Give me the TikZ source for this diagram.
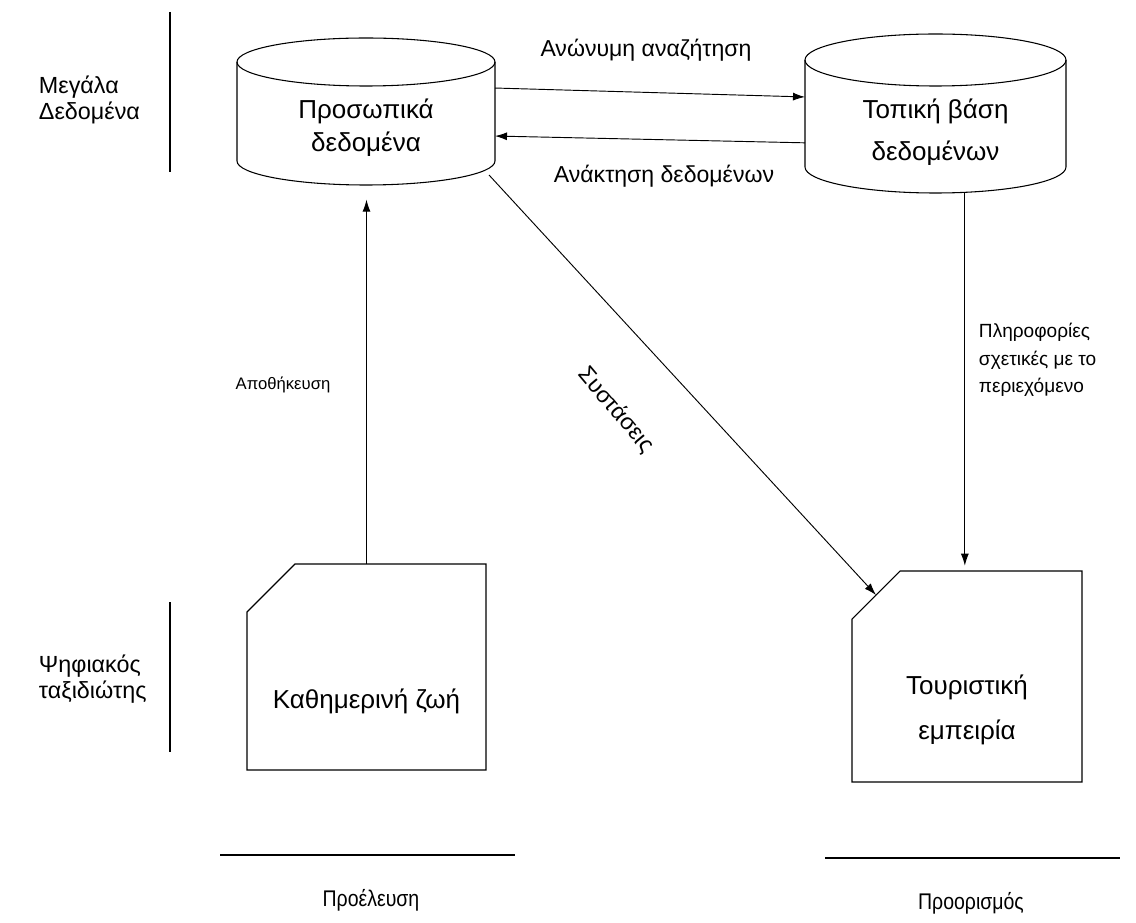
\documentclass[tikz,border=0pt]{standalone}
\usepackage{fontspec}
\setmainfont{Liberation Sans}
\newfontfamily\narrowfont[FakeStretch=0.86]{Liberation Sans}
\usetikzlibrary{arrows.meta}
\tikzset{
  arw/.style={-{Latex[length=9pt,width=6pt]}, line width=0.7pt},
  shapebox/.style={draw=none, inner sep=0pt, outer sep=0pt},
  shapetxt/.style={font=\fontsize{19.5}{25}\selectfont, align=center},
  lbl/.style={font=\fontsize{17.3}{21}\selectfont, align=center},
  smalllbl/.style={font=\fontsize{12.5}{15}\selectfont},
  sidelbl/.style={font=\fontsize{17.5}{19}\selectfont, align=left, anchor=west},
  infolbl/.style={font=\fontsize{14.3}{20.5}\selectfont, align=left, anchor=west},
  footlbl/.style={font=\narrowfont\fontsize{17}{20}\selectfont},
  rule/.style={line width=1.1pt}
}
\begin{document}
\begin{tikzpicture}[x=0.75pt,y=0.75pt,line width=0.8pt]
  \useasboundingbox (0,0) rectangle (1136,-923);

  % side labels
  \node[sidelbl] (bigdata) at (34,-100) {Μεγάλα\\Δεδομένα};
  \node[sidelbl] (traveller) at (34,-679) {Ψηφιακός\\ταξιδιώτης};
  \draw[rule] (170,-12) -- (170,-172);
  \draw[rule] (170,-602) -- (170,-752);

  % databases
  \node[shapebox, minimum width=193.5pt, minimum height=110.25pt] (pers) at (366,-111.5) {};
  \draw ([yshift=-18pt]pers.north west) -- ([yshift=18pt]pers.south west)
    arc (180:360:96.75pt and 18pt) -- ([yshift=-18pt]pers.north east);
  \draw ([yshift=-18pt]pers.north) ellipse (96.75pt and 18pt);
  \node[shapetxt] (persText) at ([yshift=-12pt]pers.center) {Προσωπικά\\δεδομένα};

  \node[shapebox, minimum width=195.75pt, minimum height=119.25pt] (loc) at (935.5,-113.5) {};
  \draw ([yshift=-19.5pt]loc.north west) -- ([yshift=19.5pt]loc.south west)
    arc (180:360:97.875pt and 19.5pt) -- ([yshift=-19.5pt]loc.north east);
  \draw ([yshift=-19.5pt]loc.north) ellipse (97.875pt and 19.5pt);
  \node[shapetxt] (locText) at ([yshift=-14pt]loc.center) {Τοπική βάση\\[6pt]δεδομένων};

  % documents
  \node[shapebox, minimum width=179.25pt, minimum height=154.5pt] (daily) at (366.5,-667) {};
  \draw ([xshift=36pt]daily.north west) -- (daily.north east) -- (daily.south east)
    -- (daily.south west) -- ([yshift=-36pt]daily.north west) -- cycle;
  \node[shapetxt] (dailyText) at ([yshift=-26pt]daily.center) {Καθημερινή ζωή};

  \node[shapebox, minimum width=172.5pt, minimum height=158.25pt] (tour) at (967,-676.5) {};
  \draw ([xshift=36pt]tour.north west) -- (tour.north east) -- (tour.south east)
    -- (tour.south west) -- ([yshift=-36pt]tour.north west) -- cycle;
  \node[shapetxt] (tourText) at ([yshift=-25pt]tour.center) {Τουριστική\\[9pt]εμπειρία};

  % connectors
  \draw[arw] ([yshift=17.6pt]pers.east) -- ([yshift=12.4pt]loc.west);
  \draw[arw] ([yshift=-22pt]loc.west) -- ([yshift=-18.4pt]pers.east);
  \draw[arw, shorten >=11pt] (daily.north) -- (daily.north |- pers.south);
  \draw[arw] ([shift={(-4.5pt,7.5pt)}]pers.south east) -- ([shift={(18pt,-18pt)}]tour.north west);
  \coordinate (infoTop) at ([xshift=22pt]loc.south);
  \draw[arw, shorten >=4pt] (infoTop) -- (infoTop |- tour.north);

  % connector labels
  \node[lbl] (search) at (646,-50) {Ανώνυμη αναζήτηση};
  \node[lbl] (fetch) at (664,-176) {Ανάκτηση δεδομένων};
  \node[smalllbl] (store) at (283,-385) {Αποθήκευση};
  \node[lbl, rotate=-50] (advice) at (616,-410) {Συστάσεις};
  \node[infolbl] (info) at (974,-360) {Πληροφορίες\\σχετικές με το\\περιεχόμενο};

  % origin and destination
  \draw[rule] (220,-855) -- (515,-855);
  \draw[rule] (825,-858) -- (1120,-858);
  \node[footlbl] (origin) at (371,-900) {Προέλευση};
  \node[footlbl] (dest) at (971,-903) {Προορισμός};
\end{tikzpicture}
\end{document}
